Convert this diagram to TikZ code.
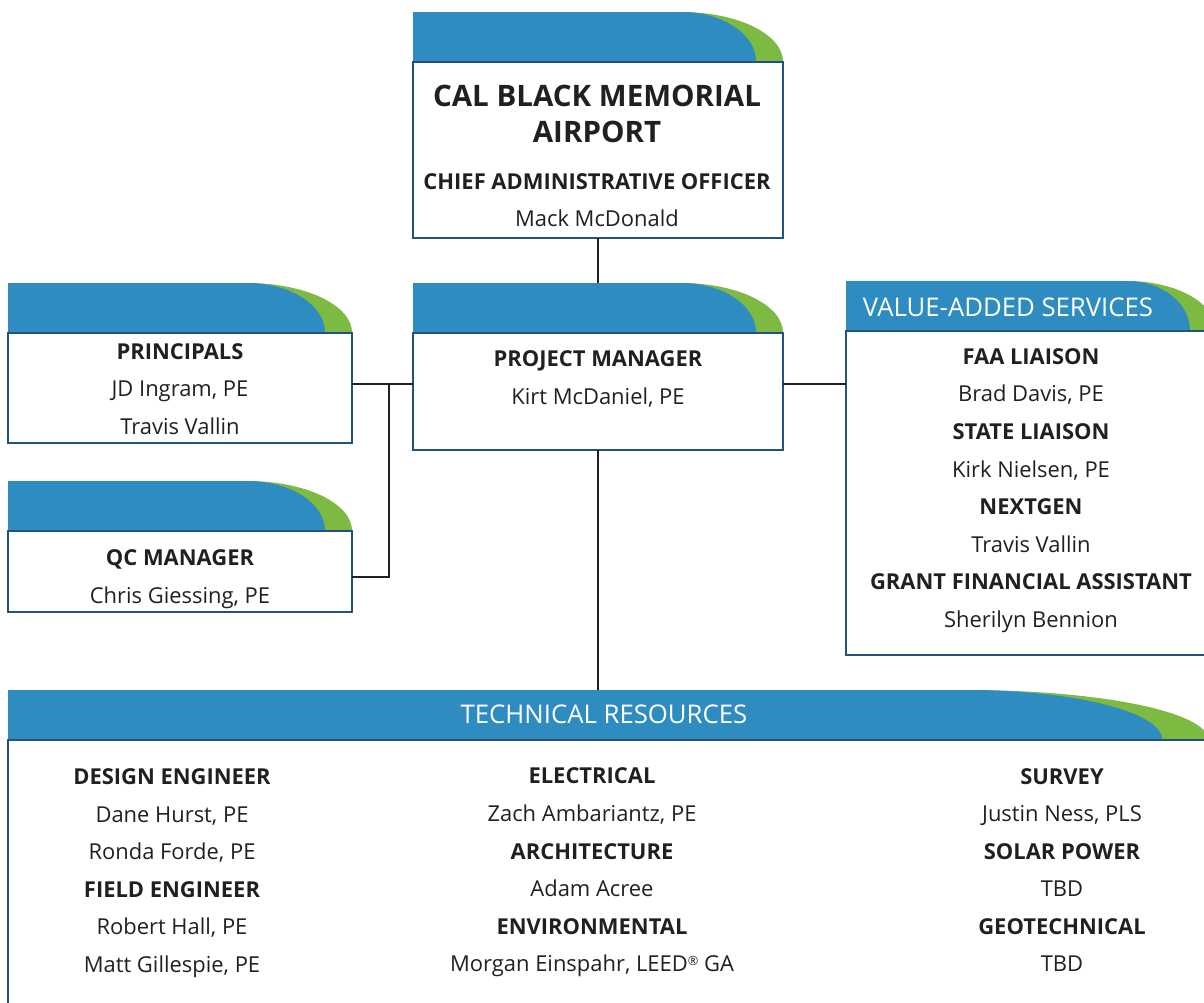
\documentclass[tikz,border=0pt]{standalone}
\usepackage{fontspec}
\setmainfont{Open Sans}
\usetikzlibrary{positioning,calc}
\definecolor{tabblue}{RGB}{46,140,192}
\definecolor{tabgreen}{RGB}{125,186,66}
\definecolor{boxline}{RGB}{34,82,125}
\definecolor{ink}{RGB}{35,31,32}
\tikzset{box/.style={draw=boxline,line width=1pt,outer sep=0pt,inner sep=0pt,anchor=north west},
         txt/.style={align=center,text=ink,inner sep=0pt,font=\fontsize{15.6}{26.7}\selectfont},
         link/.style={draw=ink,line width=0.8pt},
         tablabel/.style={text=white,inner sep=0pt,font=\fontsize{18.3}{20}\selectfont}
}
\newcommand{\hd}[1]{\textbf{#1}}
% header tab on top of a box: #1 box, #2 curve length, #3 green rim
\newcommand{\headtab}[3]{%
  \fill[tabgreen] (#1.north west) -- ($(#1.north west)+(0,-50)$) -- ($(#1.north east)+(-#2,-50)$)
    .. controls ($(#1.north east)+({-0.448*#2},-50)$) and ($(#1.north east)+(0,-28)$) .. (#1.north east) -- cycle;
  \fill[tabblue] (#1.north west) -- ($(#1.north west)+(0,-50)$) -- ($(#1.north east)+(-#2,-50)$)
    .. controls ($(#1.north east)+({-#3-0.448*(#2-#3)},-50)$) and ($(#1.north east)+(-#3,-28)$) .. ($(#1.north east)+(-#3,0)$) -- cycle;
  \draw[boxline,line width=1pt] (#1.north west) -- (#1.north east);
}

\begin{document}
\begin{tikzpicture}[x=0.025cm,y=-0.025cm]
\useasboundingbox (0,0) rectangle (1204,1002);
\clip (0,0) rectangle (1204,1002);

% boxes
\node[box,minimum width=9.25cm,minimum height=4.4cm] (ceo) at (413,62) {};
\node[box,minimum width=9.25cm,minimum height=2.925cm] (pm) at (413,333) {};
\node[box,minimum width=8.6cm,minimum height=2.75cm] (prin) at (8,333) {};
\node[box,minimum width=8.6cm,minimum height=2.025cm] (qc) at (8,531) {};
\node[box,minimum width=9.25cm,minimum height=8.1cm] (vas) at (846,331) {};
\node[box,minimum width=30cm,minimum height=7.5cm] (tech) at (8,740) {};

% links
\coordinate (jn) at (389,384);
\coordinate (jq) at (389,577);
\draw[link] (ceo.south) -- (pm.north);
\draw[link] (prin.east |- jn) -- (pm.west |- jn);
\draw[link] (jn) |- (qc.east |- jq);
\draw[link] (pm.east |- jn) -- (vas.west |- jn);
\draw[link] (pm.south) -- (pm.south |- tech.north);

% tabs
\headtab{ceo}{102}{27}
\headtab{pm}{102}{27}
\headtab{prin}{105}{27}
\headtab{qc}{105}{27}
\headtab{vas}{89}{26}
\headtab{tech}{242}{46}
\node[tablabel] (vaslabel) at (1008,307) {VALUE-ADDED SERVICES};
\node[tablabel] (techlabel) at (604,714) {TECHNICAL RESOURCES};

% texts
\node[txt,font=\fontsize{21}{25.6}\selectfont\bfseries] (ceotitle) at (597,114) {CAL BLACK MEMORIAL\\AIRPORT};
\node[txt] (ceoname) at (597,200) {\hd{CHIEF ADMINISTRATIVE OFFICER}\\Mack McDonald};
\node[txt] (pmname) at (598,379) {\hd{PROJECT MANAGER}\\Kirt McDaniel, PE};
\node[txt] (prinname) at (180,389) {\hd{PRINCIPALS}\\JD Ingram, PE\\Travis Vallin};
\node[txt] (qcname) at (180,579) {\hd{QC MANAGER}\\Chris Giessing, PE};
\node[txt] (vasname) at (1031,490.5) {\hd{FAA LIAISON}\\Brad Davis, PE\\\hd{STATE LIAISON}\\Kirk Nielsen, PE\\\hd{NEXTGEN}\\Travis Vallin\\\hd{GRANT FINANCIAL ASSISTANT}\\Sherilyn Bennion};
\node[txt] (design) at (172,873) {\hd{DESIGN ENGINEER}\\Dane Hurst, PE\\Ronda Forde, PE\\\hd{FIELD ENGINEER}\\Robert Hall, PE\\Matt Gillespie, PE};
\node[txt] (elec) at (592,872.5) {\hd{ELECTRICAL}\\Zach Ambariantz, PE\\\hd{ARCHITECTURE}\\Adam Acree\\\hd{ENVIRONMENTAL}\\Morgan Einspahr, LEED{\fontsize{9}{9}\selectfont\raisebox{0.9ex}{\textregistered}} GA};
\node[txt] (survey) at (1062,870) {\hd{SURVEY}\\Justin Ness, PLS\\\hd{SOLAR POWER}\\TBD\\\hd{GEOTECHNICAL}\\TBD};

\end{tikzpicture}
\end{document}
